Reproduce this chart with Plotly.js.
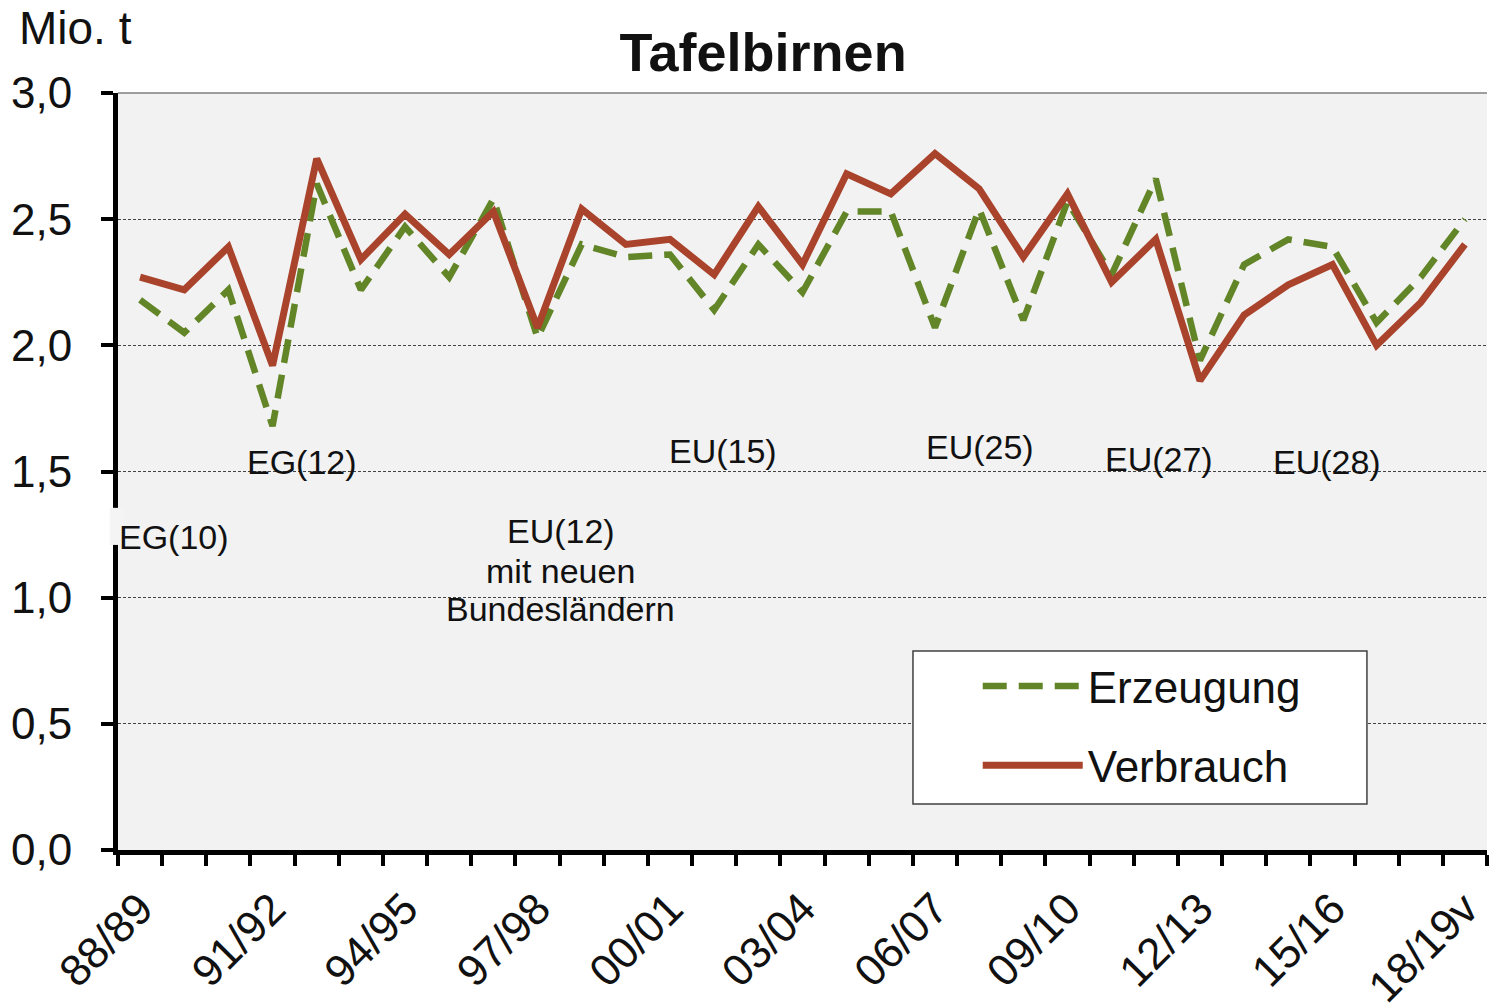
<!DOCTYPE html>
<html><head><meta charset="utf-8">
<script src="https://cdn.plot.ly/plotly-3.0.1.min.js"></script>
<style>html,body{margin:0;padding:0;background:#fff}#chart{width:1489px;height:1006px}</style>
</head><body><div id="chart"></div>
<script>
const categories = ['88/89','89/90','90/91','91/92','92/93','93/94','94/95','95/96','96/97','97/98','98/99','99/00','00/01','01/02','02/03','03/04','04/05','05/06','06/07','07/08','08/09','09/10','10/11','11/12','12/13','13/14','14/15','15/16','16/17','17/18','18/19v'];
const shownLabels = ['88/89','91/92','94/95','97/98','00/01','03/04','06/07','09/10','12/13','15/16','18/19v'];
const erzeugung = [2.18,2.05,2.22,1.68,2.64,2.22,2.47,2.27,2.58,2.03,2.40,2.35,2.36,2.14,2.40,2.21,2.53,2.53,2.07,2.54,2.10,2.57,2.28,2.66,1.94,2.32,2.42,2.39,2.09,2.27,2.50];
const verbrauch = [2.27,2.22,2.39,1.92,2.74,2.34,2.52,2.36,2.53,2.07,2.54,2.40,2.42,2.28,2.55,2.32,2.68,2.60,2.76,2.62,2.35,2.60,2.25,2.42,1.86,2.12,2.24,2.32,2.00,2.17,2.40];
const yTicks = [0,0.5,1.0,1.5,2.0,2.5,3.0];
const seriesNames = ['Erzeugung','Verbrauch'];
const unitLabel = 'Mio. t';
const chartTitle = 'Tafelbirnen';
const memberships = ['EG(10)','EG(12)','EU(12)','mit neuen','Bundesländern','EU(15)','EU(25)','EU(27)','EU(28)'];

const FONT = 'Liberation Sans, Arial, sans-serif';
const ticktext = categories.map(c => shownLabels.includes(c) ? c : '');

const traces = [
  {x: categories, y: erzeugung, name: seriesNames[0], type: 'scatter', mode: 'lines', legendgroup: 'a',
   line: {color: '#628527', width: 6.5, dash: '24px,12px'}},
  {x: categories, y: verbrauch, name: seriesNames[1], type: 'scatter', mode: 'lines', legendgroup: 'b',
   line: {color: '#a9432b', width: 7}}
];

function ann(text, x, y, opts) {
  return Object.assign({text: text, x: x, y: y, xref: 'x', yref: 'y', showarrow: false,
    font: {family: FONT, size: 34, color: '#111'}, xanchor: 'center', yanchor: 'middle'}, opts || {});
}

const annotations = [
  {text: unitLabel, xref: 'paper', yref: 'paper', x: -0.074, y: 1.086, xanchor: 'left', yanchor: 'middle',
   showarrow: false, font: {family: FONT, size: 46, color: '#111'}},
  ann(memberships[0], 0.77, 1.24),
  ann(memberships[1], 3.67, 1.538),
  ann(memberships[2], 9.53, 1.264),
  ann(memberships[3], 9.53, 1.106),
  ann(memberships[4], 9.53, 0.955),
  ann(memberships[5], 13.2, 1.581),
  ann(memberships[6], 19.02, 1.597),
  ann(memberships[7], 23.07, 1.55),
  ann(memberships[8], 26.88, 1.538)
];

const shapes = [
  {type: 'line', xref: 'paper', yref: 'paper', x0: 0, x1: 1, y0: 1, y1: 1, line: {color: '#7f7f7f', width: 1.5}, layer: 'above'},
  {type: 'rect', xref: 'paper', yref: 'paper', x0: -0.006, x1: 0.0045, y0: 0.403, y1: 0.452, fillcolor: '#f4f4f4', line: {width: 0}, layer: 'above'},
  {type: 'rect', xref: 'paper', yref: 'paper', x0: 0.5807, x1: 0.9123, y0: 0.0608, y1: 0.2629, fillcolor: '#ffffff', line: {color: '#404040', width: 1.5}, layer: 'above'}
];

const layout = {
  width: 1489, height: 1006,
  margin: {l: 118, r: 2, t: 93, b: 156, pad: 0},
  paper_bgcolor: '#ffffff', plot_bgcolor: '#f2f2f2',
  separators: ',.',
  font: {family: FONT, color: '#111'},
  title: {text: '<b>' + chartTitle + '</b>', x: 0.5125, xref: 'container', xanchor: 'center', y: 0.948, yref: 'container', yanchor: 'middle',
          font: {family: FONT, size: 54, color: '#111'}},
  xaxis: {type: 'category', range: [-0.5, 30.5], tickmode: 'array', tickvals: categories, ticktext: ticktext, tickson: 'boundaries',
          tickangle: -45, ticks: 'outside', ticklen: 11, tickwidth: 4, tickcolor: '#000',
          showline: true, linewidth: 5, linecolor: '#000', showgrid: false, zeroline: false, ticklabelstandoff: 10,
          tickfont: {family: FONT, size: 44, color: '#111'}, fixedrange: true},
  yaxis: {range: [0, 3], tickmode: 'array', tickvals: yTicks, tickformat: '.1f', ticks: 'outside', ticklen: 12, tickwidth: 4, tickcolor: '#000',
          showline: true, linewidth: 5, linecolor: '#000', showgrid: true, gridcolor: '#444', gridwidth: 1, griddash: '3px,2px',
          zeroline: false, ticklabelstandoff: 20, tickfont: {family: FONT, size: 44, color: '#111'}, fixedrange: true},
  showlegend: true,
  legend: {x: 0.628, y: 0.263, xanchor: 'left', yanchor: 'top', bgcolor: 'rgba(0,0,0,0)', borderwidth: 0,
           itemwidth: 100, tracegroupgap: 19, traceorder: 'grouped', font: {family: FONT, size: 44, color: '#111'}},
  annotations: annotations,
  shapes: shapes
};

Plotly.newPlot('chart', traces, layout, {staticPlot: true, displayModeBar: false});
</script>
</body></html>
